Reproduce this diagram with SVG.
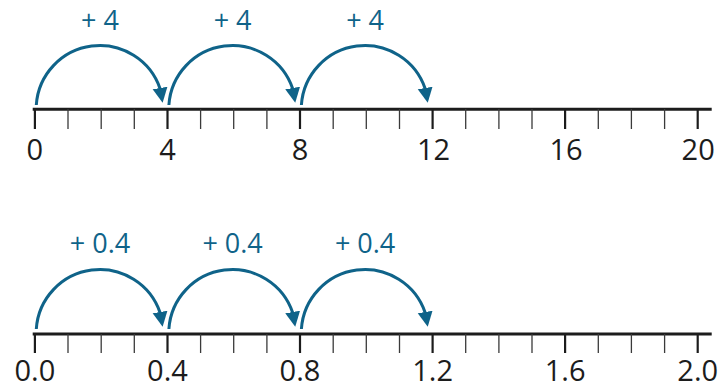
<svg xmlns="http://www.w3.org/2000/svg" width="728" height="387" viewBox="0 0 728 387">
<style>
.axis{stroke:#1c1c1c;stroke-width:3;fill:none}
.maj{stroke:#1c1c1c;stroke-width:2.2}
.min{stroke:#3a3a3a;stroke-width:1.3}
.num{font-family:"Open Sans","Liberation Sans",sans-serif;font-size:29px;fill:#1c1c1c;text-anchor:middle}
.jl{font-family:"Open Sans","Liberation Sans",sans-serif;font-size:27px;fill:#0f6389;text-anchor:middle}
.arc{stroke:#0f6389;stroke-width:3;fill:none;marker-end:url(#ah)}
</style>
<defs>
<marker id="ah" markerUnits="userSpaceOnUse" markerWidth="20" markerHeight="20" refX="1" refY="0" viewBox="0 -10 20 20" orient="80">
<path d="M0,-7.5 L15,0 L0,7.5 z" fill="#0f6389"/>
</marker>
</defs>
<g id="line-top">
<line class="axis" x1="32.7" y1="109.2" x2="711.7" y2="109.2"/>
<g class="maj">
<line x1="34.9" y1="109" x2="34.9" y2="129"/>
<line x1="167.5" y1="109" x2="167.5" y2="129"/>
<line x1="300" y1="109" x2="300" y2="129"/>
<line x1="432.6" y1="109" x2="432.6" y2="129"/>
<line x1="565.1" y1="109" x2="565.1" y2="129"/>
<line x1="697.7" y1="109" x2="697.7" y2="129"/>
</g>
<g class="min">
<line x1="68" y1="109" x2="68" y2="129"/>
<line x1="101.2" y1="109" x2="101.2" y2="129"/>
<line x1="134.3" y1="109" x2="134.3" y2="129"/>
<line x1="200.6" y1="109" x2="200.6" y2="129"/>
<line x1="233.7" y1="109" x2="233.7" y2="129"/>
<line x1="266.9" y1="109" x2="266.9" y2="129"/>
<line x1="333.2" y1="109" x2="333.2" y2="129"/>
<line x1="366.3" y1="109" x2="366.3" y2="129"/>
<line x1="399.5" y1="109" x2="399.5" y2="129"/>
<line x1="465.7" y1="109" x2="465.7" y2="129"/>
<line x1="498.9" y1="109" x2="498.9" y2="129"/>
<line x1="532" y1="109" x2="532" y2="129"/>
<line x1="598.3" y1="109" x2="598.3" y2="129"/>
<line x1="631.4" y1="109" x2="631.4" y2="129"/>
<line x1="664.6" y1="109" x2="664.6" y2="129"/>
</g>
<text class="num" x="34.9" y="159.5">0</text>
<text class="num" x="167.5" y="159.5">4</text>
<text class="num" x="300" y="159.5">8</text>
<text class="num" x="433.5" y="159.5">12</text>
<text class="num" x="566" y="159.5">16</text>
<text class="num" x="698.2" y="159.5">20</text>
</g>
<g id="line-bottom">
<line class="axis" x1="32.7" y1="334" x2="711.7" y2="334"/>
<g class="maj">
<line x1="34.9" y1="334" x2="34.9" y2="353"/>
<line x1="167.5" y1="334" x2="167.5" y2="353"/>
<line x1="300" y1="334" x2="300" y2="353"/>
<line x1="432.6" y1="334" x2="432.6" y2="353"/>
<line x1="565.1" y1="334" x2="565.1" y2="353"/>
<line x1="697.7" y1="334" x2="697.7" y2="353"/>
</g>
<g class="min">
<line x1="68" y1="334" x2="68" y2="353"/>
<line x1="101.2" y1="334" x2="101.2" y2="353"/>
<line x1="134.3" y1="334" x2="134.3" y2="353"/>
<line x1="200.6" y1="334" x2="200.6" y2="353"/>
<line x1="233.7" y1="334" x2="233.7" y2="353"/>
<line x1="266.9" y1="334" x2="266.9" y2="353"/>
<line x1="333.2" y1="334" x2="333.2" y2="353"/>
<line x1="366.3" y1="334" x2="366.3" y2="353"/>
<line x1="399.5" y1="334" x2="399.5" y2="353"/>
<line x1="465.7" y1="334" x2="465.7" y2="353"/>
<line x1="498.9" y1="334" x2="498.9" y2="353"/>
<line x1="532" y1="334" x2="532" y2="353"/>
<line x1="598.3" y1="334" x2="598.3" y2="353"/>
<line x1="631.4" y1="334" x2="631.4" y2="353"/>
<line x1="664.6" y1="334" x2="664.6" y2="353"/>
</g>
<text class="num" x="34.9" y="381">0.0</text>
<text class="num" x="167.5" y="381">0.4</text>
<text class="num" x="300" y="381">0.8</text>
<text class="num" x="432.6" y="381">1.2</text>
<text class="num" x="565.1" y="381">1.6</text>
<text class="num" x="697.7" y="381">2.0</text>
</g>
<g id="jump-labels">
<text class="jl" x="100" y="30">+ 4</text>
<text class="jl" x="232.6" y="30">+ 4</text>
<text class="jl" x="365.1" y="30">+ 4</text>
<text class="jl" x="100" y="252.5">+ 0.4</text>
<text class="jl" x="232.6" y="252.5">+ 0.4</text>
<text class="jl" x="365.1" y="252.5">+ 0.4</text>
</g>
<g id="connectors">
<path class="arc" d="M36.3,105 A63.67,63.67 0 0 1 160.2,89"/>
<path class="arc" d="M168.9,105 A63.67,63.67 0 0 1 292.8,89"/>
<path class="arc" d="M301.4,105 A63.67,63.67 0 0 1 425.3,89"/>
<path class="arc" d="M36.3,329 A63.67,63.67 0 0 1 160.2,313"/>
<path class="arc" d="M168.9,329 A63.67,63.67 0 0 1 292.8,313"/>
<path class="arc" d="M301.4,329 A63.67,63.67 0 0 1 425.3,313"/>
</g>
</svg>
